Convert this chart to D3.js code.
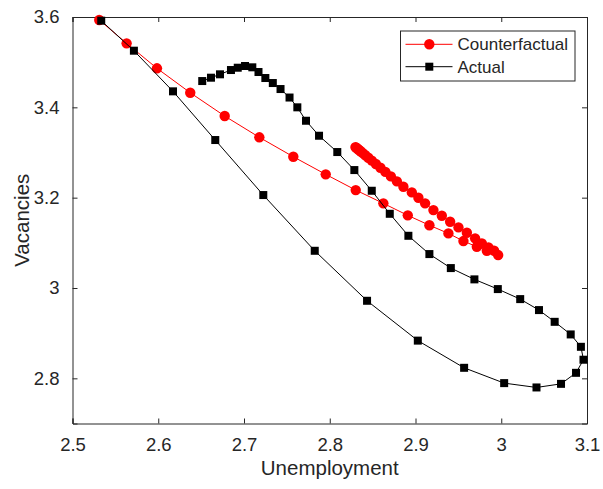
<!DOCTYPE html>
<html>
<head>
<meta charset="utf-8">
<script src="https://cdn.jsdelivr.net/npm/d3@7"></script>
<style>
  body { margin: 0; background: #fff; }
  text { font-family: "Liberation Sans", Arial, sans-serif; fill: #262626; }
</style>
</head>
<body>
<svg width="603" height="489"></svg>
<script>
// counterfactual path (unemployment, vacancies)
const cfU = [2.5312, 2.5631, 2.5985, 2.6373, 2.6775, 2.7179, 2.7575, 2.7953, 2.8303, 2.8625,
  2.8910, 2.9162, 2.9384, 2.9559, 2.9715, 2.9832, 2.9964,
  2.9917, 2.9851, 2.9774, 2.9695, 2.9599, 2.9501, 2.9404, 2.9307, 2.9209, 2.9112,
  2.9034, 2.8957, 2.8859, 2.8783, 2.8713, 2.8649, 2.8591, 2.8538, 2.8491, 2.8450,
  2.8415, 2.8386, 2.8363, 2.8345, 2.8330, 2.8318, 2.8308, 2.8300];
const cfV = [3.5934, 3.5417, 3.4864, 3.4323, 3.3807, 3.3336, 3.2906, 3.2516, 3.2168, 3.1874,
  3.1608, 3.1389, 3.1209, 3.1039, 3.0913, 3.0824, 3.0729,
  3.0824, 3.0899, 3.0988, 3.1099, 3.1223, 3.1342, 3.1466, 3.1599, 3.1725, 3.1874,
  3.1998, 3.2117, 3.2241, 3.2361, 3.2471, 3.2571, 3.2663, 3.2746, 3.2820, 3.2884,
  3.2939, 3.2985, 3.3021, 3.3050, 3.3073, 3.3092, 3.3108, 3.3120];

// actual path
const acU = [2.5335, 2.5716, 2.6172, 2.6665, 2.7225, 2.7825, 2.8435, 2.9027, 2.9567, 3.0034,
  3.0411, 3.0697, 3.0872, 3.0959, 3.0929, 3.0810, 3.0623, 3.0440, 3.0221, 2.9960,
  2.9687, 2.9412, 2.9162, 2.8917, 2.8700, 2.8490, 2.8287, 2.8088, 2.7875, 2.7723,
  2.7622, 2.7531, 2.7426, 2.7336, 2.7249, 2.7169, 2.7097, 2.7012, 2.6927, 2.6848,
  2.6720, 2.6615, 2.6513];
const acV = [3.5918, 3.5254, 3.4354, 3.3276, 3.2058, 3.0824, 2.9717, 2.8835, 2.8233, 2.7894,
  2.7798, 2.7878, 2.8122, 2.8412, 2.8698, 2.8972, 2.9251, 2.9511, 2.9754, 2.9976,
  3.0191, 3.0441, 3.0751, 3.1156, 3.1643, 3.2153, 3.2611, 3.3010, 3.3371, 3.3703,
  3.4000, 3.4217, 3.4405, 3.4538, 3.4649, 3.4782, 3.4886, 3.4915, 3.4877, 3.4826,
  3.4731, 3.4656, 3.4582];

const xTicks = [2.5, 2.6, 2.7, 2.8, 2.9, 3, 3.1];
const yTicks = [2.8, 3, 3.2, 3.4, 3.6];
const seriesNames = ['Counterfactual', 'Actual'];

const svg = d3.select('svg');
const margin = {left: 72.5, top: 17, right: 16, bottom: 65.5};
const width = 603 - margin.left - margin.right;
const height = 489 - margin.top - margin.bottom;

const x = d3.scaleLinear().domain([2.5, 3.1]).range([0, width]);
const y = d3.scaleLinear().domain([2.7, 3.6]).range([height, 0]);

const g = svg.append('g').attr('transform', `translate(${margin.left},${margin.top})`);

const fmt = d => d3.format('')(+d.toFixed(1));

// axes with inward ticks on all sides
const axBottom = g.append('g').attr('transform', `translate(0,${height})`)
  .call(d3.axisBottom(x).tickValues(xTicks).tickSize(-5).tickPadding(14).tickFormat(fmt));
const axLeft = g.append('g')
  .call(d3.axisLeft(y).tickValues(yTicks).tickSize(-5).tickPadding(13).tickFormat(fmt));
const axTop = g.append('g')
  .call(d3.axisTop(x).tickValues(xTicks).tickSize(-5).tickFormat(''));
const axRight = g.append('g').attr('transform', `translate(${width},0)`)
  .call(d3.axisRight(y).tickValues(yTicks).tickSize(-5).tickFormat(''));

[axBottom, axLeft, axTop, axRight].forEach(a => {
  a.select('.domain').attr('stroke', '#262626');
  a.selectAll('.tick line').attr('stroke', '#262626');
  a.selectAll('text').attr('font-size', 18.5).attr('fill', '#262626');
});

const line = d3.line().x(d => x(d[0])).y(d => y(d[1]));
const cfData = d3.zip(cfU, cfV);
const acData = d3.zip(acU, acV);

g.append('path').datum(cfData).attr('d', line)
  .attr('fill', 'none').attr('stroke', '#ff0000').attr('stroke-width', 1);
g.append('g').selectAll('circle').data(cfData).join('circle')
  .attr('cx', d => x(d[0])).attr('cy', d => y(d[1])).attr('r', 5.2).attr('fill', '#ff0000');

g.append('path').datum(acData).attr('d', line)
  .attr('fill', 'none').attr('stroke', '#000').attr('stroke-width', 1);
g.append('g').selectAll('rect').data(acData).join('rect')
  .attr('x', d => x(d[0]) - 4).attr('y', d => y(d[1]) - 4)
  .attr('width', 8).attr('height', 8).attr('fill', '#000');

// axis labels
svg.append('text').attr('x', margin.left + width / 2).attr('y', 475)
  .attr('text-anchor', 'middle').attr('font-size', 20.5).text('Unemployment');
svg.append('text').attr('transform', `translate(29,${margin.top + height / 2}) rotate(-90)`)
  .attr('text-anchor', 'middle').attr('font-size', 20.5).text('Vacancies');

// legend
const lg = svg.append('g').attr('transform', 'translate(400.5,31)');
lg.append('rect').attr('width', 174.5).attr('height', 50)
  .attr('fill', '#fff').attr('stroke', '#262626').attr('stroke-width', 1);
const colors = ['#ff0000', '#000'];
seriesNames.forEach((name, i) => {
  const yy = 13.3 + i * 22.4;
  lg.append('line').attr('x1', 5).attr('x2', 52).attr('y1', yy).attr('y2', yy)
    .attr('stroke', colors[i]).attr('stroke-width', 1);
  if (i === 0) {
    lg.append('circle').attr('cx', 28.8).attr('cy', yy).attr('r', 5.2).attr('fill', colors[i]);
  } else {
    lg.append('rect').attr('x', 24.8).attr('y', yy - 4).attr('width', 8).attr('height', 8).attr('fill', colors[i]);
  }
  lg.append('text').attr('x', 57).attr('y', yy).attr('dy', '0.35em')
    .attr('font-size', 17).attr('fill', '#000').text(name);
});
</script>
</body>
</html>
